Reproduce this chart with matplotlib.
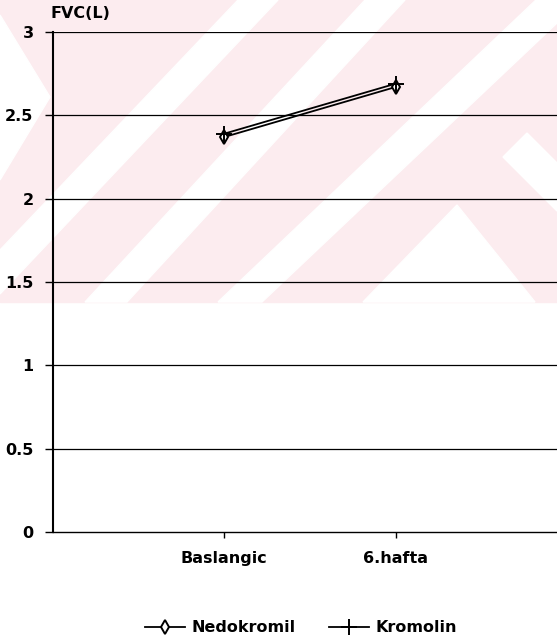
import matplotlib
matplotlib.use("Agg")
from matplotlib import pyplot as plt
from matplotlib.patches import Rectangle, Polygon

# data
periods = ["Baslangic", "6.hafta"]
nedokromil = [2.37, 2.67]
kromolin = [2.39, 2.69]
y_ticks = [0, 0.5, 1, 1.5, 2, 2.5, 3]
y_labels = ["0", "0.5", "1", "1.5", "2", "2.5", "3"]

W, H = 557, 642
plt.rcParams['font.family'] = ['DejaVu Sans']
plt.rcParams['font.weight'] = 'bold'

fig = plt.figure(figsize=(W / 100, H / 100), dpi=100)

# faint watermark background of the scan (pixel coords, y from top)
def px(x, y):
    return (x / W, 1 - y / H)

fig.patches.append(Rectangle(px(0, 302), 1, 302 / H, transform=fig.transFigure,
                             color='#fcecef', zorder=-10))
stripes = [
    [(0, 15), (50, 97), (0, 180)],
    [(0, 250), (0, 294), (278, 0), (238, 0)],
    [(85, 302), (127, 302), (405, 0), (365, 0)],
    [(218, 302), (262, 302), (557, 23), (557, -20)],
    [(503, 157), (527, 133), (557, 163), (557, 211)],
    [(457, 205), (363, 302), (535, 302)],
]
for s in stripes:
    fig.patches.append(Polygon([px(x, y) for x, y in s], closed=True,
                               transform=fig.transFigure, color='white', zorder=-9))

ax = fig.add_axes([53 / W, 110 / H, 514 / W, 500 / H])
ax.patch.set_alpha(0)

x = [1, 2]
ax.plot(x, nedokromil, color='black', lw=1.3, marker='d', ms=7,
        mfc='white', mec='black', mew=1.4, label='Nedokromil')
ax.plot(x, kromolin, color='black', lw=1.3, marker='+', ms=11,
        mew=1.4, label='Kromolin')

ax.set_xlim(0, 3)
ax.set_ylim(0, 3)
ax.set_xticks(x)
ax.set_xticklabels(periods, fontsize=11.5, fontweight='bold')
ax.set_yticks(y_ticks)
ax.set_yticklabels(y_labels, fontsize=11.5, fontweight='bold')
ax.tick_params(axis='y', length=6, width=1, pad=8)
ax.tick_params(axis='x', length=4, width=1, pad=10)

for v in y_ticks[1:]:
    ax.axhline(v, color='black', lw=0.9, zorder=0)

for side in ['top', 'right']:
    ax.spines[side].set_visible(False)
ax.spines['left'].set_linewidth(1.5)
ax.spines['bottom'].set_linewidth(1.0)

fig.text(50 / W, 1 - 13 / H, "FVC(L)", fontsize=11.5, fontweight='bold',
         ha='left', va='center')

fig.legend(loc='center', bbox_to_anchor=(301 / W, 1 - 628 / H), ncol=2,
           frameon=False, handlelength=2.5, columnspacing=2.1,
           handletextpad=0.4, prop={'weight': 'bold', 'size': 11.5})

fig.savefig("out.png", dpi=100)
